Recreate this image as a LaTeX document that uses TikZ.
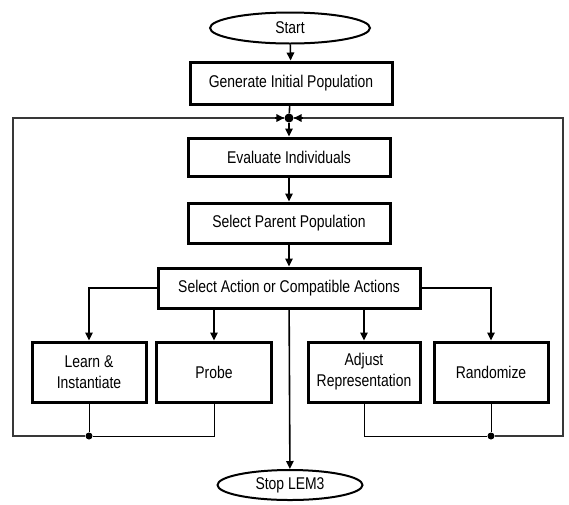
\documentclass[tikz,border=0pt]{standalone}
\usepackage{fontspec}
\setmainfont{Liberation Sans}[FakeStretch=0.82]
\usepackage{tikz}
\usetikzlibrary{positioning,arrows.meta,shapes.geometric,calc}
\definecolor{ink}{gray}{0.0}
\definecolor{loopgray}{gray}{0.22}
\tikzset{
  stepbox/.style={draw=ink, line width=3pt, fill=white, align=center,
              inner sep=2pt, font=\fontsize{17}{21}\selectfont, minimum height=40pt},
  term/.style={draw=ink, ellipse, line width=2pt, fill=white, inner sep=0pt,
               font=\fontsize{17}{21}\selectfont, minimum height=31pt},
  flow/.style={-{Triangle[length=8pt,width=7.5pt]}, draw=ink, line width=1.6pt},
  back/.style={draw=loopgray, line width=2pt},
  tie/.style={draw=ink, line width=1pt},
  dot/.style={circle, fill=ink, inner sep=0pt, minimum size=8pt},
}
\begin{document}
\begin{tikzpicture}[x=1pt, y=-1pt]
  \useasboundingbox (0,0) rectangle (569,504);
  % main column
  \node[term, minimum width=160pt] (start) at (290,28) {Start};
  \node[stepbox, minimum width=202pt, minimum height=42pt] (gen) at (291,83) {Generate Initial Population};
  \node[dot, minimum size=9pt] (jn) at (289,118) {};
  \node[stepbox, minimum width=202pt, minimum height=38pt] (eval) at (289,157) {Evaluate Individuals};
  \node[stepbox, minimum width=202pt] (parent) at (289,223) {Select Parent Population};
  \node[stepbox, minimum width=262pt] (action) at (289,288) {Select Action or Compatible Actions};
  % actions
  \node[stepbox, minimum width=114pt, minimum height=60pt] (learn) at (89,372) {Learn \&\\Instantiate};
  \node[stepbox, minimum width=115pt, minimum height=60pt] (probe) at (214,372) {Probe};
  \node[stepbox, minimum width=112pt, minimum height=60pt] (adjust) at (364,372) {Adjust\\Representation};
  \node[stepbox, minimum width=114pt, minimum height=60pt] (rand) at (491,372) {Randomize};
  \node[term, minimum width=145pt, minimum height=30pt] (stop) at (290,485) {Stop LEM3};
  % loop-back junctions
  \node[dot, minimum size=7pt] (ldot) at (89,436) {};
  \node[dot, minimum size=7pt] (rdot) at (491,436) {};
  \coordinate (lc) at (13,436);
  \coordinate (rc) at (563,436);

  \draw[flow] (start) -- (gen);
  \draw[flow, -] (gen) -- (jn);
  \draw[flow] (jn) -- (eval);
  \draw[flow] (eval) -- (parent);
  \draw[flow] (parent) -- (action);
  \draw[flow] (action.west) -| (learn.north);
  \draw[flow] (action.south -| probe.north) -- (probe.north);
  \draw[flow] (action.south -| adjust.north) -- (adjust.north);
  \draw[flow] (action.east) -| (rand.north);
  \draw[flow] (action) -- (stop);

  \draw[tie] (learn) -- (ldot);
  \draw[tie] (probe) |- (ldot);
  \draw[tie] (adjust) |- (rdot);
  \draw[tie] (rand) -- (rdot);
  \draw[back] (ldot) -- (lc) |- (jn.west);
  \draw[back] (rdot) -- (rc) |- (jn.east);
  \draw[flow] ($(jn.west)+(-9,0)$) -- (jn.west);
  \draw[flow] ($(jn.east)+(9,0)$) -- (jn.east);
\end{tikzpicture}
\end{document}
